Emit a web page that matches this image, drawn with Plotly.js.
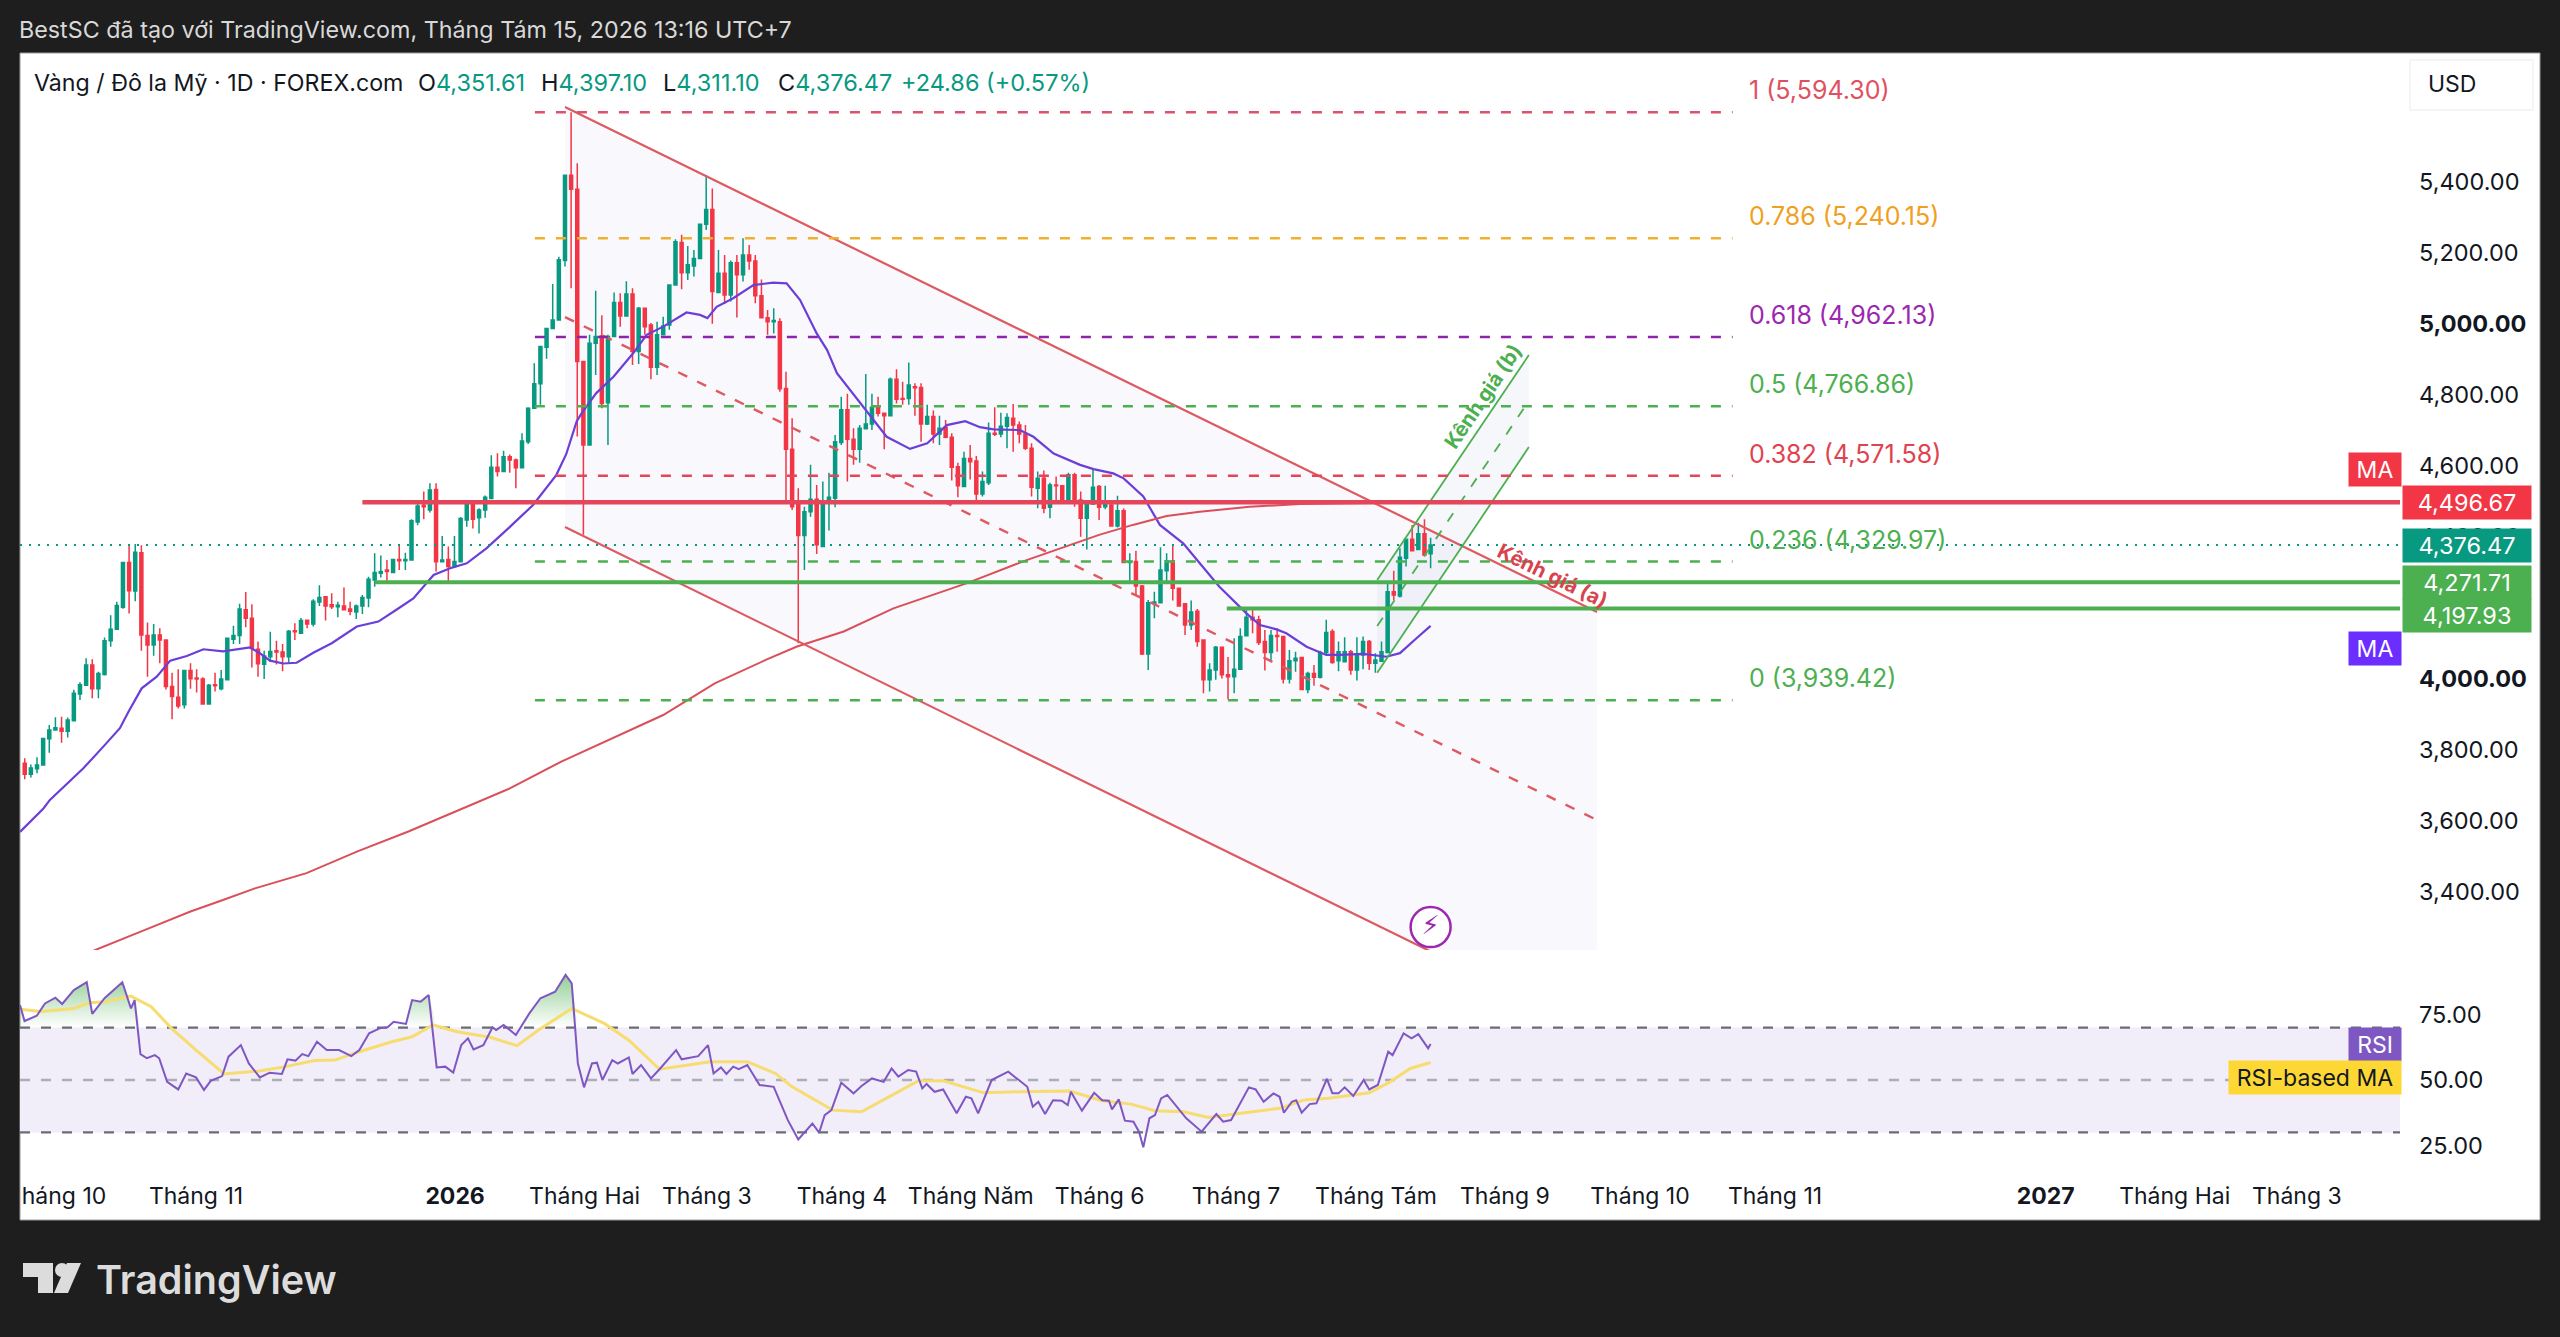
<!DOCTYPE html>
<html><head><meta charset="utf-8">
<script src="https://cdn.plot.ly/plotly-3.0.1.min.js"></script>
<style>html,body{margin:0;padding:0;background:#1e1e1e;overflow:hidden}#c{width:2560px;height:1337px}</style>
</head><body><div id="c"></div>
<script>
const open=[3762,3731,3747,3757,3831,3856,3861,3852,3882,3957,3982,4039,3972,4012,4107,4139,4201,4327,4247,4355,4122,4095,4123,4109,3978,3948,3927,4023,4002,3999,3929,3983,3972,3997,4111,4122,4194,4170,4083,4041,4062,4079,4075,4062,4135,4128,4165,4154,4216,4231,4208,4203,4205,4196,4188,4205,4227,4278,4297,4306,4299,4336,4332,4334,4441,4488,4475,4533,4329,4336,4316,4329,4447,4494,4453,4475,4507,4595,4583,4625,4616,4594,4667,4761,4830,4933,4986,5010,5177,5417,5378,4893,4658,4944,4965,4777,4963,5059,5021,5083,4921,5043,4996,4877,4968,4996,5108,5228,5143,5162,5183,5279,5321,5087,5141,5080,5171,5137,5193,5176,5078,5016,5005,5005,4817,4646,4496,4403,4470,4505,4372,4494,4508,4665,4757,4674,4646,4704,4717,4766,4747,4740,4843,4789,4789,4822,4820,4717,4738,4689,4708,4680,4597,4541,4620,4613,4520,4552,4691,4689,4711,4733,4714,4689,4649,4536,4564,4483,4545,4543,4505,4574,4503,4452,4492,4541,4484,4489,4430,4473,4327,4330,4261,4070,4212,4214,4304,4332,4255,4211,4151,4190,4109,3997,4025,4089,4011,4006,4027,4121,4173,4166,4105,4074,4122,4119,3999,4051,4060,3970,4015,4004,4074,4133,4051,4048,4076,4025,4067,4105,4044,4049,4074,4245,4233,4339,4393,4364,4408,4351.61];
const high=[3776,3759,3779,3832,3870,3892,3893,3891,3969,3990,4058,4055,4020,4116,4179,4217,4329,4376,4379,4376,4158,4154,4142,4109,4017,4027,4025,4044,4027,4004,3985,4017,4025,4116,4149,4211,4244,4210,4105,4079,4132,4107,4098,4137,4156,4171,4167,4224,4263,4233,4241,4217,4257,4217,4209,4236,4287,4353,4347,4334,4338,4376,4355,4449,4494,4527,4550,4550,4402,4372,4402,4455,4498,4498,4480,4516,4629,4635,4642,4631,4620,4691,4764,4888,4937,4987,5111,5188,5419,5594.3,5451,4895,4968,5092,5023,4968,5087,5085,5119,5099,5046,5043,5001,5005,5019,5108,5237,5250,5218,5207,5279,5418,5380,5207,5193,5177,5193,5240,5221,5193,5124,5038,5043,5015,4864,4733,4536,4484,4602,4545,4555,4580,4686,4794,4802,4705,4714,4858,4802,4794,4747,4848,4871,4836,4890,4832,4832,4771,4755,4740,4728,4691,4608,4639,4658,4627,4583,4721,4764,4749,4747,4773,4724,4714,4663,4583,4586,4552,4569,4545,4580,4580,4527,4501,4592,4545,4543,4492,4515,4479,4353,4360,4264,4222,4245,4370,4353,4379,4257,4211,4220,4196,4111,4044,4092,4089,4061,4114,4142,4198,4198,4177,4137,4137,4142,4121,4081,4076,4062,4020,4039,4079,4166,4139,4105,4117,4081,4117,4119,4109,4072,4105,4269,4304,4367,4395,4433,4439,4449,4397.1];
const low=[3717,3722,3734,3756,3792,3856,3820,3835,3882,3940,3981,3945,3945,4009,4090,4139,4197,4184,4218,4079,4006,4065,4044,3970,3886,3916,3916,3972,3961,3929,3929,3964,3968,3997,4098,4098,4145,4032,4006,3999,4047,4040,4021,4045,4109,4128,4142,4147,4205,4164,4196,4173,4192,4179,4168,4182,4201,4259,4285,4273,4299,4306,4306,4334,4432,4449,4468,4302,4327,4275,4313,4327,4428,4423,4409,4453,4507,4569,4583,4580,4536,4594,4661,4759,4771,4901,4986,5010,5160,5099,4682,4405,4658,4855,4761,4658,4963,4991,5019,4883,4886,4968,4843,4855,4968,4982,5108,5096,5122,5132,5183,5263,4999,5085,5055,5062,5017,5118,5151,5057,5015,4968,4972,4808,4503,4475,4100,4306,4456,4351,4370,4417,4483,4658,4555,4602,4608,4702,4700,4738,4646,4738,4775,4771,4771,4740,4667,4714,4663,4658,4677,4558,4511,4539,4561,4501,4513,4545,4683,4680,4649,4639,4663,4644,4513,4480,4466,4452,4492,4501,4505,4484,4400,4364,4489,4447,4477,4428,4426,4325,4273,4233,4067,4025,4170,4214,4269,4220,4203,4123,4137,4090,3959,3964,3997,4001,3942,3959,4025,4119,4128,4095,4023,4053,4076,3987,3987,4020,3970,3959,3980,4001,4070,4042,4021,4048,4011,3995,4027,4025,4017,4047,4074,4222,4229,4316,4358,4362,4344,4311.1];
const close=[3731,3749,3757,3832,3856,3862,3852,3884,3959,3983,4039,3972,4015,4107,4139,4206,4327,4248,4356,4123,4095,4123,4109,3978,3950,3923,4023,4000,3999,3929,3982,3980,3999,4114,4122,4196,4170,4085,4042,4064,4077,4075,4062,4134,4132,4164,4154,4218,4229,4205,4203,4207,4194,4190,4205,4229,4280,4299,4302,4302,4336,4332,4336,4445,4486,4484,4531,4329,4334,4316,4330,4451,4494,4449,4475,4511,4595,4583,4625,4616,4594,4669,4761,4830,4935,4986,5010,5179,5417,5378,4893,4658,4944,4963,4775,4963,5059,5021,5083,4921,5043,4991,4877,4968,4993,5108,5230,5143,5165,5183,5279,5321,5090,5141,5080,5171,5137,5193,5176,5078,5016,5005,5008,4816,4646,4484,4403,4470,4505,4377,4494,4511,4667,4757,4674,4646,4705,4717,4764,4747,4740,4843,4787,4787,4827,4819,4717,4738,4689,4705,4680,4595,4543,4620,4611,4520,4555,4691,4688,4711,4735,4714,4689,4649,4539,4564,4480,4545,4543,4503,4574,4501,4452,4499,4539,4483,4496,4430,4473,4327,4330,4261,4070,4214,4216,4306,4332,4255,4205,4151,4188,4105,3997,4025,4089,4011,4006,4027,4119,4173,4166,4102,4074,4122,4119,3999,4051,4058,3970,4015,4004,4074,4130,4046,4076,4076,4025,4070,4105,4044,4053,4076,4245,4236,4342,4393,4360,4408,4348,4376.47];

const ma20Bar=[-0.77,3.05,4.1,9.55,12.8,15.5,16.9,19.05,21.5,23.7,26.4,29.1,32.3,36.7,38.3,39.95,42.1,44.3,47,50,54.1,57.6,60.6,63.3,66.6,69.3,72,75.2,78.5,82.8,86.6,88.2,89.9,90.7,93.1,95.9,99.1,101.3,104,107.8,110,111.2,112.7,115.4,118.7,121.9,124.1,126.3,129,130.7,132.3,136.1,140.4,144.2,147,150.2,153.2,155.6,157.8,162.1,164.3,167.6,171.9,174.1,177.3,179,182.2,184.9,188.7,191.4,194.6,199,201.2,203.9,205.5,208.8,212,214.2,218,221.8,224,226.7,229];
const ma20Val=[3569,3635,3659,3748,3809,3861,3907,3973,4006,4051,4064,4083,4077,4088,4072,4051,4043,4045,4073,4100,4147,4161,4195,4226,4292,4311,4325,4367,4419,4489,4574,4632,4724,4747,4804,4850,4916,4968,4991,5031,5024,5015,5047,5071,5108,5115,5113,5066,4972,4925,4860,4775,4681,4647,4663,4714,4725,4708,4702,4700,4681,4634,4602,4590,4578,4564,4513,4433,4381,4325,4259,4184,4151,4139,4128,4090,4067,4067,4070,4062,4072,4114,4149];
const ma200Bar=[8,11.4,20,27,32.4,37.5,45.9,54.2,62.5,70.8,79.1,87.4,95.7,104,112.4,120.7,125.7,133.4,141.5,153.5,163.2,175,180.5,186,191.4,199.5,207.7,218.5,229];
const ma200Val=[3210,3236,3296,3345,3378,3410,3453,3514,3570,3631,3692,3767,3832,3898,3987,4053,4090,4133,4198,4269,4334,4405,4433,4458,4470,4484,4492,4494,4497];

const rsiBar=[-0.77,-0.03,1.96,3.3,5,6.1,8,10.1,11,13,15.9,17.3,17.9,18.85,19.9,21.2,21.9,23.2,25,26.3,27.9,29.2,30.3,32.15,33.2,35.2,36.5,38.3,39.9,41.9,42.8,44.1,45.2,46.2,47.6,49.2,51.2,53.2,54.5,56.1,57.8,59.1,60.1,62.1,63.1,64.5,65.8,67.1,68.5,69.8,71.1,72.2,73.1,74.7,76.2,76.8,78,80,82.2,84,86.4,88.1,89.1,90.1,91.1,92.4,93.2,94.1,95.7,96.6,98.4,99,100.4,102,103.4,106.1,107,109.7,111.3,112.2,113.4,114.3,115.4,116.3,117.7,119.7,122,124.3,126,127.6,128.3,129.4,130.3,131.4,133,135,136.3,138,139.9,141.2,142.3,143.9,145.2,146.2,146.9,148.2,149.6,151.8,153.3,154.2,155.3,157.5,160.2,163.3,164.2,165.1,166.2,167.5,168.9,169.9,170.4,172.2,174.2,175.5,176.6,177.1,178.2,179.2,180.6,181.5,182.2,183.2,184.1,185.1,186.1,189.2,191.7,194.1,195.2,196.5,199.4,200.5,201.8,203.4,204.4,205.1,206.4,207.1,208,209.3,210.4,212.1,213,214,215,216.4,218.1,219,220.4,222.1,222.8,224.6,225.9,227,228.6,229];
const rsiVal=[78.6,72.5,74.5,79.2,81.4,79,84.3,87.3,75.2,81.2,87.3,77.3,80.5,59.9,58.3,59.5,58.3,49.3,46.4,52.5,51,46.2,49.7,51.5,58.9,63.3,56.3,51,52.8,52.3,57.9,57.4,59.9,59.1,64.6,61.4,61.4,59.1,61.4,67.8,69.7,70.1,72.2,71.4,80.5,79.9,82.4,54.8,55.1,52.8,63.3,65.9,61.7,63.3,70.1,69.1,71,67.2,75.4,81.2,83.7,90.1,86.9,56.3,47.2,56.3,56.6,50,57.6,56.3,58.6,52.3,55.7,50.6,54.1,61.4,57.9,59.1,63.3,52.5,54.8,52.3,55.1,54.1,55.7,48.1,47.4,34.7,27.3,31.5,33.4,29.9,36.6,38.5,49,44.9,47.7,50.6,49.3,54.4,51.3,53.8,53.2,46.8,48.5,45.5,46.4,37.3,43.6,43,37.3,50,53.2,47.4,39.8,41.7,37,42.3,42.1,40.4,45.5,38.3,45.1,42.3,42.1,38.8,42.6,34.5,34.1,30.3,24.3,35.4,36.6,43,44.3,35.4,30.3,37,34.1,34.7,47.2,46.4,41.7,44.9,43.6,37.5,41.7,42.3,37.5,40.8,41.1,50.4,44.9,44.9,47.2,43.9,50,46.4,48.1,60.8,59.5,67.8,65.9,67.5,62.1,63.7];
const rsiMaBar=[-0.77,2.6,8,10.6,13.3,17.3,20.6,23.9,27.9,32.5,38.5,42.5,47.2,50.5,54.5,59.8,63.1,66.5,70.4,75.8,80.2,83.7,89.1,94.4,98.4,103.4,111.7,117.7,122.3,125,131.6,136.3,140.3,145.6,149.6,156.2,162.2,170.2,175.5,180.2,184.1,188.8,192.8,198.1,204.4,208.4,212.4,219,222.4,225.7,229];
const rsiMaVal=[77,76.1,77.3,79.5,79.9,82,78,69.7,61.4,52.3,53.5,55.1,57.4,57.6,60.8,64.6,66.5,71,68.4,66.3,63.1,69.1,77.3,71.6,65.2,54.1,57,57,52.5,47.4,38.5,37.9,43,49.7,49.7,45.1,45.5,45.8,42.1,40.8,38.3,37.9,35.7,37.3,39.2,42.4,43,45.1,49.3,54.4,56.7];

const fibValues=[5594.30,5240.15,4962.13,4766.86,4571.58,4329.97,3939.42];
const fibLabels=["1 (5,594.30)","0.786 (5,240.15)","0.618 (4,962.13)","0.5 (4,766.86)","0.382 (4,571.58)","0.236 (4,329.97)","0 (3,939.42)"];
const fibColors=["#d9536a","#efb030","#8e24aa","#4caf50","#e5455a","#4caf50","#4caf50"];
const fibTextColors=["#e0515f","#f0a020","#9c27b0","#4caf50","#e0434f","#4caf50","#4caf50"];
const fibBarStart=83.1, fibBarEnd=278.2, fibLabelBar=280.5;

const channelABar=[88,256.1], channelAUpper=[5609,4188], channelALower=[4427,3003], channelAMid=[5018,3602.5];
const channelBBar=[220.3,245], channelBUpper=[4278,4911], channelBLower=[4017,4652], channelBMid=[4148.5,4782];

const resistance=4496.67, resistanceStart=55;
const support1=4271.71, support1Start=57;
const support2=4197.93, support2Start=195.8;
const lastPrice=4376.47;

const priceTicks=[3400,3600,3800,4000,4200,4400,4600,4800,5000,5200,5400];
const priceTickText=["3,400.00","3,600.00","3,800.00","<b>4,000.00</b>","4,200.00","4,400.00","4,600.00","4,800.00","<b>5,000.00</b>","5,200.00","5,400.00"];
const rsiTicks=[25,50,75], rsiTickText=["25.00","50.00","75.00"];
const timeTicks=[6.4,27.9,70.1,91.2,111.1,133.1,154.1,175.1,197.3,220.1,241.1,263.1,285.1,329.2,350.2,370.1];
const timeTickText=["háng 10","Tháng 11","<b>2026</b>","Tháng Hai","Tháng 3","Tháng 4","Tháng Năm","Tháng 6","Tháng 7","Tháng Tám","Tháng 9","Tháng 10","Tháng 11","<b>2027</b>","Tháng Hai","Tháng 3"];

const W=2560,H=1337, FONT="Inter, 'Noto Sans', sans-serif";
const px=v=>v/W, py=v=>1-v/H;
const XR=[-0.77,386.9];
const line=(x,y,color,width,dash,yaxis)=>({type:'scatter',mode:'lines',x,y,yaxis:yaxis||'y',hoverinfo:'skip',showlegend:false,line:{color,width,dash:dash||'solid'}});
const DASH='10px,11px';

const traces=[];
traces.push({type:'candlestick',x:open.map((_,i)=>i),open,high,low,close,yaxis:'y',hoverinfo:'skip',showlegend:false,whiskerwidth:0,
  increasing:{line:{color:'#089981',width:1.5},fillcolor:'#089981'},
  decreasing:{line:{color:'#f23645',width:1.5},fillcolor:'#f23645'}});
traces.push(line(ma20Bar,ma20Val,'#6a3fd8',2.2));
traces.push(line(ma200Bar,ma200Val,'#d9505a',2));
traces.push(line(channelABar,channelAUpper,'#dd5a60',2.2));
traces.push(line(channelABar,channelALower,'#dd5a60',2.2));
traces.push(line(channelABar,channelAMid,'#dd5a60',2.4,DASH));
traces.push(line(channelBBar,channelBUpper,'#4caf50',1.8));
traces.push(line(channelBBar,channelBLower,'#4caf50',1.8));
traces.push(line(channelBBar,channelBMid,'#4caf50',1.8,DASH));
fibValues.forEach((v,i)=>traces.push(line([fibBarStart,fibBarEnd],[v,v],fibColors[i],2.5,DASH)));
traces.push(line([XR[0],XR[1]],[lastPrice,lastPrice],'#089981',2,'2px,7px'));
traces.push(line([resistanceStart,XR[1]],[resistance,resistance],'#e5455a',4.5));
traces.push(line([support1Start,XR[1]],[support1,support1],'#4caf50',4));
traces.push(line([support2Start,XR[1]],[support2,support2],'#4caf50',4));
traces.push({type:'scatter',mode:'markers+text',x:[229],y:[3301],text:['⚡'],textposition:'middle center',textfont:{size:26,color:'#9c27b0',family:'DejaVu Sans'},hoverinfo:'skip',showlegend:false,
  marker:{size:40,color:'rgba(255,255,255,0.9)',line:{color:'#9c27b0',width:2.5}}});

// RSI pane
const above=rsiVal.map(v=>Math.max(v,70));
traces.push({type:'scatter',mode:'lines',x:rsiBar,y:rsiVal.map(()=>70),yaxis:'y2',line:{width:0,color:'rgba(0,0,0,0)'},hoverinfo:'skip',showlegend:false});
traces.push({type:'scatter',mode:'lines',x:rsiBar,y:above,yaxis:'y2',line:{width:0,color:'rgba(0,0,0,0)'},fill:'tonexty',hoverinfo:'skip',showlegend:false,
  fillgradient:{type:'vertical',start:70,stop:90,colorscale:[[0,'rgba(76,175,80,0)'],[1,'rgba(76,175,80,0.6)']]}});
traces.push(line([XR[0],XR[1]],[70,70],'#6b6d75',2.4,DASH,'y2'));
traces.push(line([XR[0],XR[1]],[50,50],'#adaeb5',2.4,DASH,'y2'));
traces.push(line([XR[0],XR[1]],[30,30],'#6b6d75',2.4,DASH,'y2'));
traces.push(line(rsiMaBar,rsiMaVal,'#f7dc6f',3,'solid','y2'));
traces.push(line(rsiBar,rsiVal,'#7e57c2',2,'solid','y2'));

const shapes=[
 {type:'rect',xref:'paper',yref:'paper',x0:px(20),x1:px(2540),y0:py(1220),y1:py(53),fillcolor:'#fff',line:{color:'#9a9a9a',width:1},layer:'below'},
 {type:'path',xref:'x',yref:'y',layer:'below',line:{width:0},fillcolor:'rgba(110,90,210,0.045)',
  path:`M${channelABar[0]},${channelAUpper[0]} L${channelABar[1]},${channelAUpper[1]} L${channelABar[1]},${channelALower[1]} L${channelABar[0]},${channelALower[0]} Z`},
 {type:'path',xref:'x',yref:'y',layer:'below',line:{width:0},fillcolor:'rgba(60,100,160,0.05)',
  path:`M${channelBBar[0]},${channelBUpper[0]} L${channelBBar[1]},${channelBUpper[1]} L${channelBBar[1]},${channelBLower[1]} L${channelBBar[0]},${channelBLower[0]} Z`},
 {type:'rect',xref:'x',yref:'y2',layer:'below',x0:XR[0],x1:XR[1],y0:30,y1:70,fillcolor:'#f1edf9',line:{width:0}},
 {type:'rect',xref:'paper',yref:'paper',x0:px(2410),x1:px(2533),y0:py(110),y1:py(60),fillcolor:'#fff',line:{color:'#f0f2f6',width:1.5}},
 // TradingView logo
 {type:'path',xref:'paper',yref:'paper',fillcolor:'#dcdcdc',line:{width:0},path:`M${px(23)},${py(1263)} H${px(53)} V${py(1293)} H${px(38)} V${py(1277)} H${px(23)} Z`},
 {type:'circle',xref:'paper',yref:'paper',fillcolor:'#dcdcdc',line:{width:0},x0:px(55),x1:px(69),y0:py(1277),y1:py(1263)},
 {type:'path',xref:'paper',yref:'paper',fillcolor:'#dcdcdc',line:{width:0},path:`M${px(81)},${py(1263)} L${px(68)},${py(1293)} H${px(54)} L${px(67)},${py(1263)} Z`},
];

const text=(x,y,t,size,color,opts)=>Object.assign({xref:'paper',yref:'paper',x:px(x),y:py(y),text:t,showarrow:false,xanchor:'left',yanchor:'middle',font:{family:FONT,size,color}},opts||{});
const tag=(xc,yc,w,h,t,bg,color)=>text(xc,yc,t,23,color,{xanchor:'center',bgcolor:bg,width:w,height:h,align:'center',valign:'middle',borderpad:0});
const priceTag=(price,t,bg,shift)=>({xref:'paper',yref:'y',x:px(2467),y:price,yshift:shift||0,text:t,showarrow:false,xanchor:'center',yanchor:'middle',bgcolor:bg,width:128,height:33,align:'center',valign:'middle',borderpad:0,font:{family:FONT,size:23.5,color:'#fff'}});
const G='#089981';
const ohlc=(k,v)=>`<span style="color:#131722">${k}</span><span style="color:${G}">${v}</span>`;
const annotations=[
 text(17,30,"BestSC đã tạo với TradingView.com, Tháng Tám 15, 2026 13:16 UTC+7",23.3,'#d8d8d8'),
 text(32,83,"Vàng / Đô la Mỹ · 1D · FOREX.com",23.2,'#131722'),
 text(416,83,ohlc('O','4,351.61'),23.5,G),
 text(539,83,ohlc('H','4,397.10'),23.5,G),
 text(661,83,ohlc('L','4,311.10'),23.5,G),
 text(775.5,83,ohlc('C','4,376.47'),23.5,G),
 text(899,83,"+24.86 (+0.57%)",23.5,G),
 text(2426,84,"USD",23,'#131722'),
 text(94,1280,"TradingView",39.5,'#dcdcdc',{font:{family:FONT,size:39.5,color:'#dcdcdc',weight:600}}),
 priceTag(resistance,'4,496.67','#f23645'),
 priceTag(lastPrice,'4,376.47','#089981'),
 priceTag(support1,'4,271.71','#4caf50'),
 priceTag(support2,'4,197.93','#4caf50',-7),
 tag(2375,469.6,52,33,'MA','#f23645','#fff'),
 tag(2375,648.6,52,33,'MA','#6b2eff','#fff'),
 tag(2375,1044,52,33,'RSI','#7e57c2','#fff'),
 tag(2315,1077,172,33,'RSI-based MA','#fdd835','#131722'),
 {xref:'x',yref:'y',x:248.9,y:4290,text:'<b>Kênh giá (a)</b>',showarrow:false,textangle:26,xanchor:'center',yanchor:'middle',font:{family:FONT,size:20.5,color:'#d9434f'}},
 {xref:'x',yref:'y',x:237.5,y:4794,text:'<b>Kênh giá (b)</b>',showarrow:false,textangle:-56,xanchor:'center',yanchor:'middle',font:{family:FONT,size:20.5,color:'#4caf50'}},
];
fibValues.forEach((v,i)=>annotations.push({xref:'x',yref:'y',x:fibLabelBar,y:v,yshift:22,text:fibLabels[i],showarrow:false,xanchor:'left',yanchor:'middle',font:{family:FONT,size:25,color:fibTextColors[i]}}));

const layout={width:W,height:H,autosize:false,margin:{l:0,r:0,t:0,b:0,pad:0},paper_bgcolor:'#1e1e1e',plot_bgcolor:'rgba(0,0,0,0)',showlegend:false,hovermode:false,boxgap:0.3,
 font:{family:FONT,size:23,color:'#131722'},
 xaxis:{domain:[px(20),px(2400)],range:XR,anchor:'y2',showgrid:false,zeroline:false,showline:false,ticks:'',ticklen:0,tickmode:'array',tickvals:timeTicks,ticktext:timeTickText,tickangle:0,tickfont:{family:FONT,size:23,color:'#131722'},ticklabelstandoff:8,rangeslider:{visible:false},fixedrange:true},
 yaxis:{domain:[py(950),py(53)],range:[3236.6,5761.2],side:'right',anchor:'x',showgrid:false,zeroline:false,showline:false,ticks:'',tickmode:'array',tickvals:priceTicks,ticktext:priceTickText,tickfont:{family:FONT,size:23.5,color:'#131722'},ticklabelstandoff:18,fixedrange:true},
 yaxis2:{domain:[py(1172),py(950)],range:[14.9,99.6],side:'right',anchor:'x',showgrid:false,zeroline:false,showline:false,ticks:'',tickmode:'array',tickvals:rsiTicks,ticktext:rsiTickText,tickfont:{family:FONT,size:23.5,color:'#131722'},ticklabelstandoff:18,fixedrange:true},
 shapes,annotations};
Plotly.newPlot('c',traces,layout,{displayModeBar:false,staticPlot:true,responsive:false});
</script></body></html>
